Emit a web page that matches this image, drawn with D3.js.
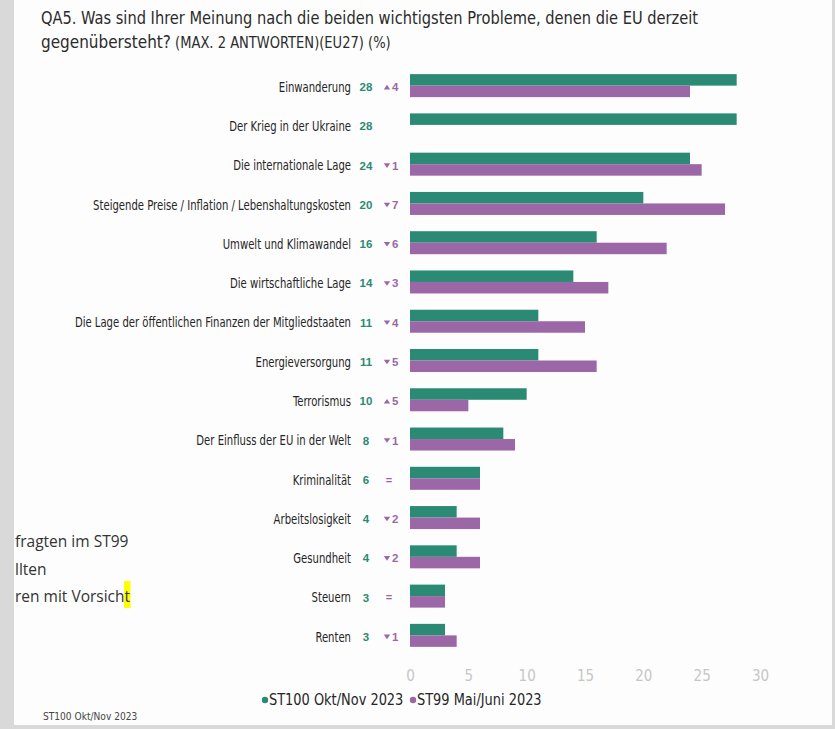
<!DOCTYPE html>
<html lang="de">
<head>
<meta charset="utf-8">
<script src="https://cdn.jsdelivr.net/npm/d3@7"></script>
<style>
  html, body { margin: 0; padding: 0; background: #d9d9d9; }
  svg { display: block; }
  .narrow { font-family: "Liberation Sans Narrow", "DejaVu Sans Condensed", "Liberation Sans", sans-serif; }
</style>
</head>
<body>
<script>
// Problem categories, top to bottom
const categories = [
  "Einwanderung",
  "Der Krieg in der Ukraine",
  "Die internationale Lage",
  "Steigende Preise / Inflation / Lebenshaltungskosten",
  "Umwelt und Klimawandel",
  "Die wirtschaftliche Lage",
  "Die Lage der öffentlichen Finanzen der Mitgliedstaaten",
  "Energieversorgung",
  "Terrorismus",
  "Der Einfluss der EU in der Welt",
  "Kriminalität",
  "Arbeitslosigkeit",
  "Gesundheit",
  "Steuern",
  "Renten"
];
// Standard Eurobarometer 100 (Okt/Nov 2023), %
const st100 = [28, 28, 24, 20, 16, 14, 11, 11, 10, 8, 6, 4, 4, 3, 3];
// Standard Eurobarometer 99 (Mai/Juni 2023), % (not asked: null)
const st99 = [24, null, 25, 27, 22, 17, 15, 16, 5, 9, 6, 6, 6, 3, 4];
const seriesNames = ["ST100 Okt/Nov 2023", "ST99 Mai/Juni 2023"];
const seriesColors = ["#2b8a73", "#9b67a7"];
const xTicks = [0, 5, 10, 15, 20, 25, 30];

const W = 835, H = 729;
const svg = d3.select("body").append("svg").attr("width", W).attr("height", H);

// page panel
svg.append("rect").attr("x", 14).attr("y", 0).attr("width", 818).attr("height", 725).attr("fill", "#fdfdfd");

// title
svg.append("text").attr("class", "narrow").attr("fill", "#2b2b2b")
  .attr("transform", "translate(41,24) scale(0.93,1)")
  .attr("font-size", 17.5)
  .text("QA5. Was sind Ihrer Meinung nach die beiden wichtigsten Probleme, denen die EU derzeit");
const t2 = svg.append("text").attr("class", "narrow").attr("fill", "#2b2b2b")
  .attr("transform", "translate(41,48) scale(0.97,1)");
t2.append("tspan").attr("font-size", 17.5).text("gegenübersteht?");
t2.append("tspan").attr("font-size", 15).text(" (MAX. 2 ANTWORTEN)(EU27) (%)");

// scales
const x = d3.scaleLinear().domain([0, 30]).range([410, 760]);
const y = d3.scaleBand().domain(categories).range([66, 655]).padding(0);
const sub = d3.scaleBand().domain([0, 1]).range([-11.5, 11.5]);

const rows = svg.append("g").selectAll("g").data(categories).join("g")
  .attr("transform", d => `translate(0,${y(d) + y.bandwidth() / 2})`);

rows.each(function (cat, i) {
  const g = d3.select(this);
  [st100[i], st99[i]].forEach((v, s) => {
    if (v == null) return;
    g.append("rect")
      .attr("x", x(0)).attr("y", sub(s))
      .attr("width", x(v) - x(0)).attr("height", sub.bandwidth())
      .attr("fill", seriesColors[s]);
  });
  // category label
  g.append("text").attr("class", "narrow")
    .attr("transform", "translate(351,1.5) scale(0.83,1)")
    .attr("dy", "0.35em")
    .attr("text-anchor", "end").attr("font-size", 13.5).attr("fill", "#262626")
    .text(cat);
  // current value
  g.append("text")
    .attr("x", 366).attr("y", 1.5).attr("dy", "0.35em")
    .attr("text-anchor", "middle").attr("font-size", 11.5).attr("font-weight", "bold")
    .attr("font-family", "'Liberation Sans', sans-serif")
    .attr("fill", seriesColors[0])
    .text(st100[i]);
  // change vs. previous wave
  if (st99[i] != null) {
    const diff = st100[i] - st99[i];
    const dg = g.append("g").attr("fill", seriesColors[1]);
    if (diff === 0) {
      dg.append("text").attr("x", 389).attr("y", 1.5).attr("dy", "0.35em")
        .attr("text-anchor", "middle").attr("font-size", 11).attr("font-weight", "bold")
        .attr("font-family", "'Liberation Sans', sans-serif").text("=");
    } else {
      const up = diff > 0;
      dg.append("path")
        .attr("d", up ? "M-3.2,2.3L3.2,2.3L0,-2.3Z" : "M-3.2,-2.3L3.2,-2.3L0,2.3Z")
        .attr("transform", "translate(387,1.5)");
      dg.append("text").attr("x", 392).attr("y", 1.5).attr("dy", "0.35em")
        .attr("font-size", 11.5).attr("font-weight", "bold")
        .attr("font-family", "'Liberation Sans', sans-serif").text(Math.abs(diff));
    }
  }
});

// x axis (labels only)
const axis = svg.append("g").attr("transform", "translate(0,670)")
  .call(d3.axisBottom(x).tickValues(xTicks).tickSize(0).tickPadding(0));
axis.select(".domain").remove();
axis.selectAll("text").attr("class", "narrow").attr("font-size", 15).attr("fill", "#c6c6c6");

// legend
const legend = svg.append("g").attr("class", "narrow").attr("font-size", 15).attr("fill", "#262626");
const lx = [265, 413];
seriesNames.forEach((n, s) => {
  legend.append("circle").attr("cx", lx[s]).attr("cy", 700).attr("r", 3.2).attr("fill", seriesColors[s]);
  legend.append("text").attr("transform", `translate(${lx[s] + 4},705) scale(0.96,1)`).text(n);
});

// side note (last letter marked with a highlighter)
const note = svg.append("g").attr("font-family", "'Open Sans', 'Noto Sans', sans-serif").attr("font-size", 15.5).attr("fill", "#333");
const mark = note.append("rect").attr("fill", "#ffff00");
note.append("text").attr("x", 15).attr("y", 547).text("fragten im ST99");
note.append("text").attr("x", 15).attr("y", 575).text("llten");
const last = note.append("text").attr("x", 15).attr("y", 602).text("ren mit Vorsicht");
const n = last.node();
const ext = n.getExtentOfChar(n.getNumberOfChars() - 1);
mark.attr("x", ext.x - 0.5).attr("y", 581).attr("width", ext.width + 1).attr("height", 27);

// source footnote
svg.append("text").attr("class", "narrow").attr("transform", "translate(43,720) scale(0.92,1)")
  .attr("font-size", 11).attr("fill", "#444").text("ST100 Okt/Nov 2023");
</script>
</body>
</html>
